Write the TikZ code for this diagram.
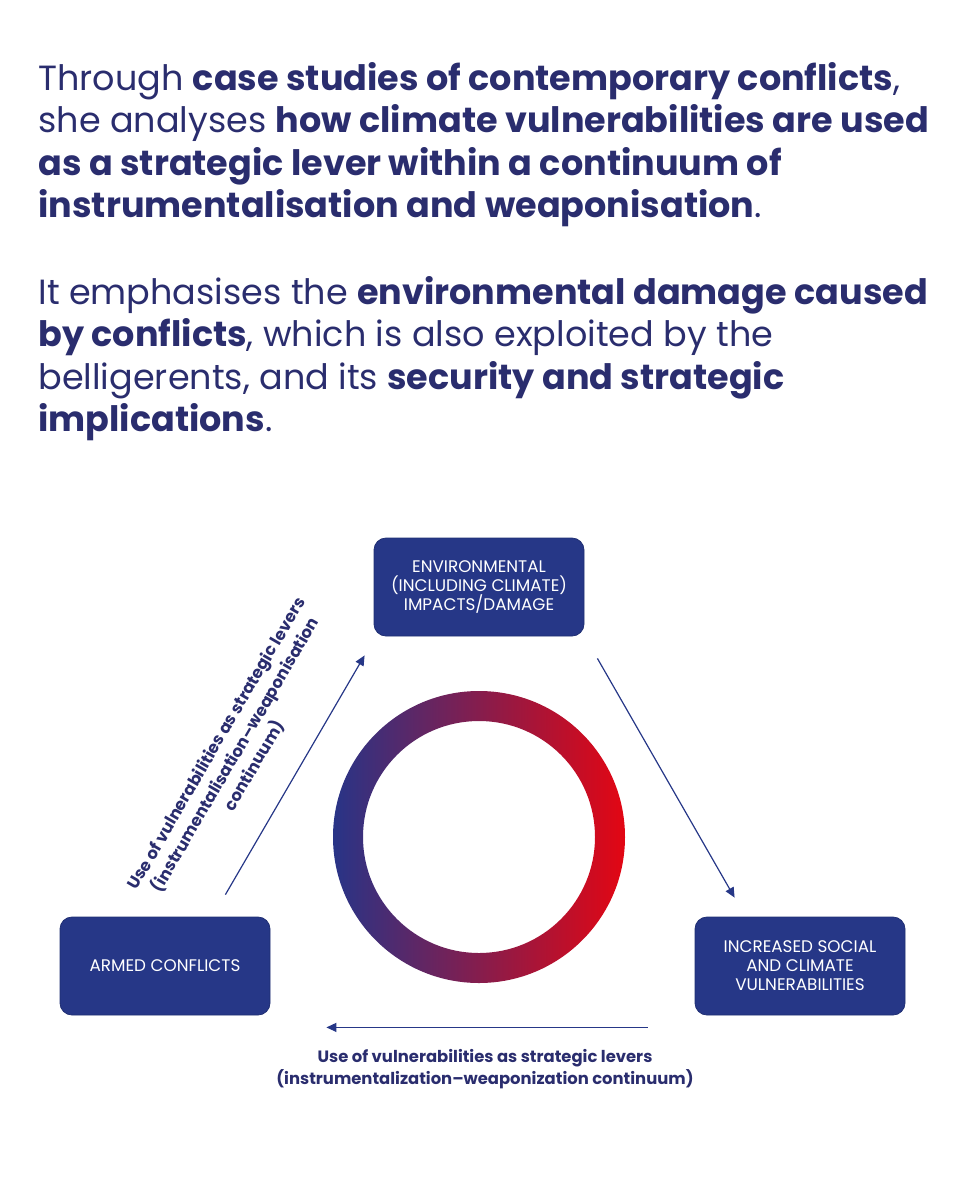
\documentclass[tikz,border=0pt]{standalone}
\usepackage{fontspec}
\setmainfont{Poppins}
\usepackage{xcolor}
\usetikzlibrary{arrows.meta,positioning}

\definecolor{inknavy}{RGB}{42,45,110}
\definecolor{boxblue}{RGB}{38,55,135}
\definecolor{ringblue}{RGB}{40,52,135}
\definecolor{ringred}{RGB}{227,6,19}

\begin{document}
\begin{tikzpicture}[x=0.5pt, y=-0.5pt,
	box/.style={draw=boxblue!85!black, fill=boxblue, rounded corners=6pt,
		minimum width=105pt, minimum height=49pt, align=center, text=white,
		font=\fontsize{8.4}{9.5}\selectfont},
	arr/.style={-{Triangle[length=5pt, width=4.5pt]}, line width=0.6pt, draw=boxblue},
	lever/.style={align=center, text=inknavy, font=\fontsize{8.2}{11}\selectfont\bfseries},
	intro/.style={anchor=north west, align=left, inner sep=0pt, text=inknavy,
		font=\fontsize{17.5}{21.25}\selectfont}
]
	\useasboundingbox (0,0) rectangle (960,1200);

	% Introductory text
	\node[intro] (para1) at (38,62)
		{Through \textbf{case studies of contemporary conflicts},\\
		 she analyses \textbf{how climate vulnerabilities are used}\\
		 \textbf{as a strategic lever within a continuum of}\\
		 \textbf{instrumentalisation and weaponisation}.};
	\node[intro] (para2) at (38,276)
		{It emphasises the \textbf{environmental damage caused}\\
		 \textbf{by conflicts}, which is also exploited by the\\
		 belligerents, and its \textbf{security and strategic}\\
		 \textbf{implications}.};

	% Gradient ring in the middle
	\shade[left color=ringblue, right color=ringred, even odd rule]
		(479,837) circle[radius=73pt] (479,837) circle[radius=58pt];

	% The three stages
	\node[box] (env) at (479,587)
		{ENVIRONMENTAL\\ (INCLUDING CLIMATE)\\ IMPACTS/DAMAGE};
	\node[box] (armed) at (165,966) {ARMED CONFLICTS};
	\node[box] (vuln) at (800,966)
		{INCREASED SOCIAL\\ AND CLIMATE\\ VULNERABILITIES};

	\draw[arr] ([shift={(-45,-22)}]armed.north east) -- ([shift={(-9,19)}]env.south west);
	\draw[arr] ([shift={(13,22)}]env.south east) -- ([shift={(40,-19)}]vuln.north west);
	\draw[arr] ([shift={(-47,12)}]vuln.south west) -- ([shift={(56,12)}]armed.south east);

	% Labels of the levers
	\node[lever, rotate=59.7] (leverleft) at (236,755)
		{Use of vulnerabilities as strategic levers\\
		 (instrumentalisation--weaponisation\\ continuum)};
	\node[lever] (leverbottom) at (485,1069)
		{Use of vulnerabilities as strategic levers\\
		 (instrumentalization--weaponization continuum)};
\end{tikzpicture}
\end{document}
